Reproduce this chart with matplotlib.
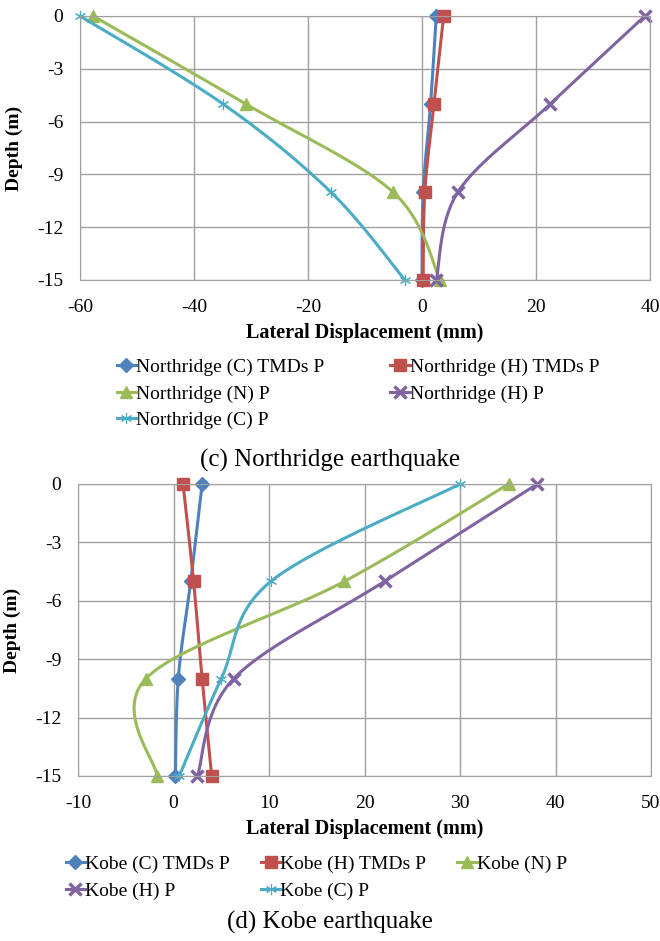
import numpy as np
import matplotlib.pyplot as plt
from matplotlib.lines import Line2D

plt.rcParams['font.family'] = ['Liberation Serif', 'DejaVu Serif']
plt.rcParams['axes.unicode_minus'] = False

depth = [0, -5, -10, -15]

# Northridge lateral displacement (mm)
nr_labels = ['Northridge (C) TMDs P', 'Northridge (H) TMDs P', 'Northridge (N) P',
             'Northridge (H) P', 'Northridge (C) P']
nr_c_tmd = [2.5, 1.5, 0.2, 0.0]
nr_h_tmd = [3.8, 2.1, 0.5, 0.2]
nr_n = [-57.7, -30.9, -5.1, 3.2]
nr_h = [39.1, 22.5, 6.3, 2.5]
nr_c = [-60.0, -34.9, -16.0, -3.0]

# Kobe lateral displacement (mm)
kb_labels = ['Kobe (C) TMDs P', 'Kobe (H) TMDs P', 'Kobe (N) P', 'Kobe (H) P', 'Kobe (C) P']
kb_c_tmd = [3.0, 1.8, 0.5, 0.2]
kb_h_tmd = [1.0, 2.1, 3.0, 4.0]
kb_n = [35.1, 17.9, -2.9, -1.7]
kb_h = [38.1, 22.1, 6.3, 2.5]
kb_c = [30.0, 10.2, 5.0, 0.6]

colors = ['#4F81BD', '#C0504D', '#9BBB59', '#8064A2', '#4BACC6']
markers = ['D', 's', '^', 'x', (6, 2, 0)]
msizes = [7, 9, 9, 9, 8]
mews = [1, 1, 1, 2.5, 0.8]


def smooth(ax, xs, ys, n=30):
    # smoothed line through the points: Catmull-Rom bezier in screen space
    pts = ax.transData.transform(np.column_stack([xs, ys]))
    p = np.vstack([pts[0], pts, pts[-1]])
    out = []
    t = np.linspace(0, 1, n)[:, None]
    for i in range(1, len(p) - 2):
        p0, p1, p2, p3 = p[i - 1], p[i], p[i + 1], p[i + 2]
        c1 = p1 + (p2 - p0) / 6
        c2 = p2 - (p3 - p1) / 6
        seg = ((1 - t) ** 3) * p1 + 3 * ((1 - t) ** 2) * t * c1 + 3 * (1 - t) * t ** 2 * c2 + t ** 3 * p2
        out.append(seg)
    out = np.vstack(out)
    d = ax.transData.inverted().transform(out)
    return d[:, 0], d[:, 1]


def panel(ax, series, xlim, xticks):
    ax.set_xlim(*xlim)
    ax.set_ylim(-15, 0)
    ax.set_xticks(xticks)
    ax.set_yticks([0, -3, -6, -9, -12, -15])
    ax.grid(True, color='#A0A0A0', lw=1)
    ax.set_axisbelow(True)
    for s in ax.spines.values():
        s.set_color('#A0A0A0')
    ax.tick_params(axis='x', length=0, labelsize=14, pad=14)
    ax.tick_params(axis='y', length=0, labelsize=14, pad=12)
    ax.set_ylabel('Depth (m)', fontsize=14, fontweight='bold', labelpad=10)
    ax.set_xlabel('Lateral Displacement (mm)', fontsize=14.5, fontweight='bold', labelpad=5)
    for xs, c, m, ms, mew in zip(series, colors, markers, msizes, mews):
        sx, sy = smooth(ax, xs, depth)
        ax.plot(sx, sy, color=c, lw=2.2, solid_capstyle='round', clip_on=False)
        ax.plot(xs, depth, ls='none', marker=m, ms=ms, color=c, mec=c, mew=mew, clip_on=False)


def legend_keys():
    return [Line2D([], [], color=c, lw=2.2, marker=m, ms=ms, mew=mew)
            for c, m, ms, mew in zip(colors, markers, msizes, mews)]


fig = plt.figure(figsize=(6.6, 9.41), dpi=100)
W, H = 660, 941

ax1 = fig.add_axes([80 / W, 1 - 280 / H, 570 / W, 264 / H])
panel(ax1, [nr_c_tmd, nr_h_tmd, nr_n, nr_h, nr_c], (-60, 40), [-60, -40, -20, 0, 20, 40])
k = legend_keys()
order = [0, 2, 4, 1, 3]  # row-wise fill over 2 columns
fig.legend([k[i] for i in order], [nr_labels[i] for i in order], loc='upper left',
           bbox_to_anchor=(99 / W, 1 - 341 / H), ncol=2, frameon=False, fontsize=14,
           handlelength=1.0, handletextpad=0.0, columnspacing=3.4, labelspacing=0.45)
fig.text(330 / W, 1 - 460 / H, '(c) Northridge earthquake', ha='center', va='center', fontsize=18)

ax2 = fig.add_axes([78 / W, 1 - 776 / H, 573 / W, 292 / H])
panel(ax2, [kb_c_tmd, kb_h_tmd, kb_n, kb_h, kb_c], (-10, 50), [-10, 0, 10, 20, 30, 40, 50])
k = legend_keys()
order = [0, 3, 1, 4, 2]  # row-wise fill over 3 columns
fig.legend([k[i] for i in order], [kb_labels[i] for i in order], loc='upper left',
           bbox_to_anchor=(48 / W, 1 - 838 / H), ncol=3, frameon=False, fontsize=14,
           handlelength=1.0, handletextpad=0.0, columnspacing=1.6, labelspacing=0.45)
fig.text(330 / W, 1 - 922 / H, '(d) Kobe earthquake', ha='center', va='center', fontsize=18)

fig.savefig('out.png', dpi=100)
